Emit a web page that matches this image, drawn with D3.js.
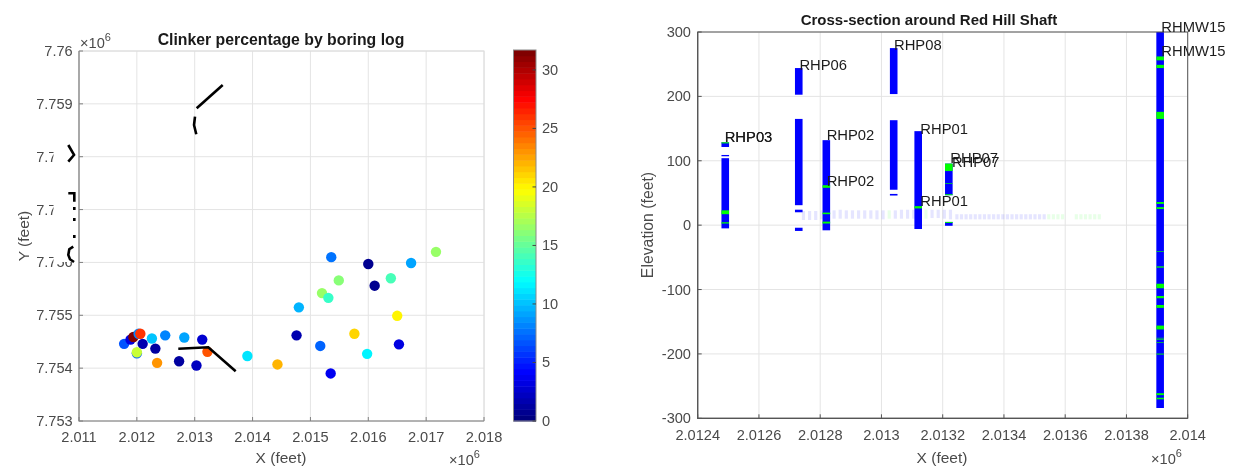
<!DOCTYPE html>
<html><head><meta charset="utf-8">
<script src="https://cdn.jsdelivr.net/npm/d3@7"></script>
<style>
html,body{margin:0;padding:0;background:#fff;overflow:hidden}
svg{display:block;filter:blur(0.45px)}
text{font-family:"Liberation Sans",Arial,sans-serif}
</style></head><body><svg id="c" width="1248" height="470"></svg>
<script>
// ---- left panel data
const wellX=[2.01178,2.01189,2.01194,2.01203,2.01206,2.0121,2.012,2.012,2.01226,2.01232,2.01235,2.01249,2.01282,2.01273,2.01303,2.01313,2.01322,2.01391,2.01443,2.01476,2.0148,2.01517,2.01536,2.016,2.01674,2.01717,2.01639,2.01549,2.01611,2.0152,2.01531,2.0165,2.01576,2.01653,2.01598,2.01535];
const wellY=[7.75446,7.75454,7.75459,7.75465,7.75465,7.75446,7.75428,7.7543,7.75456,7.75437,7.7541,7.75462,7.75458,7.75413,7.75405,7.75454,7.75431,7.75423,7.75407,7.75462,7.75515,7.75442,7.7561,7.75597,7.75599,7.7562,7.7557,7.75566,7.75556,7.75542,7.75533,7.75499,7.75465,7.75445,7.75427,7.7539];
const clinker=[6.5,3,31.5,8,26,1.5,7,18,10,1,23,8,9,1,2,2.5,25,11,22,1.5,9.5,7,7.5,0.5,9,16.5,14,16,0.5,16.5,13.5,20,21,3,11.5,3.5];
const leftXTicks=[2.011,2.012,2.013,2.014,2.015,2.016,2.017,2.018];
const leftYTicks=[7.753,7.754,7.755,7.756,7.757,7.758,7.759,7.76];
const colorTicks=[0,5,10,15,20,25,30];
const shaftLines=[
 [[2.013034,7.758916],[2.013484,7.759357]],
 [[2.013005,7.758757],[2.012988,7.7586],[2.013027,7.758424]],
 [[2.012716,7.754368],[2.013235,7.754395],[2.013708,7.753941]]];
const strayLines=[
 [[2.010815,7.758222],[2.010914,7.758033],[2.010815,7.757906]],
 [[2.010815,7.757308],[2.010919,7.757308],[2.010919,7.757149]],
 [[2.010919,7.757049],[2.010919,7.756992]],
 [[2.010919,7.756841],[2.010919,7.756784]],
 [[2.010919,7.756519],[2.010919,7.756462]],
 [[2.010901,7.756298],[2.010832,7.756249],[2.010815,7.756141],[2.010844,7.75606],[2.010914,7.756008]]];
// ---- right panel data
const rightXTicks=[2.0124,2.0126,2.0128,2.013,2.0132,2.0134,2.0136,2.0138,2.014];
const rightYTicks=[-300,-200,-100,0,100,200,300];
const rhp03=2.01249,rhp06=2.01273,rhp02=2.01282,rhp08=2.01304,rhp01=2.01312,rhp07=2.01322,rhmw15=2.01391;
const boringX=[rhp03,rhp03,rhp03,rhp06,rhp06,rhp06,rhp06,rhp02,rhp08,rhp08,rhp08,rhp01,rhp07,rhp07,rhmw15];
const boringTop=[128.7,109,104,244,165,24,-4,132,275,163,48.5,146,95.6,5,300];
const boringBottom=[121.4,107,-5,202.6,31,20,-9,-8,203.6,55,46,-6,46.5,-1,-284];
const clinkerX=[rhp03,rhp03,rhp03,rhp02,rhp02,rhp02,rhp01,rhp07,rhp07,rhp07,rhp07,
 rhmw15,rhmw15,rhmw15,rhmw15,rhmw15,rhmw15,rhmw15,rhmw15,rhmw15,rhmw15,rhmw15,rhmw15,rhmw15,rhmw15,rhmw15,rhmw15,rhmw15];
const clinkerTop=[128.7,23,4.5,62,19.5,5.5,29.5,95.6,65,48,5,262,249,176,36,28,-64,-91,-110,-124,-156,-175,-177,-199.5,-261,-268,-40.5,-182];
const clinkerBottom=[127,17,2.5,58,17,2.5,26,84,64,46.5,3.5,256,244,165,33,25,-66,-98,-113.5,-128.5,-162,-176,-178,-201,-264,-270.5,-41.5,-183];
const faintX=[2.012745,2.012765,2.012785,2.012805,2.012825,2.012845,2.012865,2.012885,2.012905,2.012925,2.012945,2.012965,2.012985,2.013005,2.013025,2.013045,2.013065,2.013085,2.013105,2.013125,2.013145,2.013165,2.013185,2.013205,2.013225,
 2.013246,2.013261,2.013276,2.013291,2.013306,2.013321,2.013336,2.013351,2.013366,2.013381,2.013396,2.013411,2.013426,2.013441,2.013456,2.013471,2.013486,2.013501,2.013516,2.013531,2.013546,2.013561,2.013576,2.013591,2.013606,2.013621,2.013636,2.013651,2.013666,2.013681,2.013696,2.013711];
const faintTop=[22,22,22,23,22,23,24,23,23,23,23,23,23,23,23,23,24,24,24,24,24,24,24,24,24,
 17,17,17,17,17,17,17,17,17,17,17,17,17,17,17,17,17,17,17,17,17,17,17,17,0,0,17,17,17,17,17,17];
const faintBottom=[8,8,8,9,9,10,10,10,10,10,10,10,9,9,10,10,10,10,10,10,10,11,11,10,9,
 9,9,9,9,9,9,9,9,9,9,9,9,9,9,9,9,9,9,9,9,9,9,9,9,0,0,9,9,9,9,9,9];
const faintKind=["b","b","b","b","b","b","b","b","b","b","b","b","b","b","g","b","b","b","b","g","g","b","b","b","b",
 "b","b","b","b","b","b","b","b","b","b","b","b","b","b","b","b","b","b","b","b","g","g","g","g","g","g","g","g","g","g","g","g"];
const labelName=["RHP03","RHP03","RHP06","RHP02","RHP02","RHP08","RHP01","RHP01","RHP07","RHP07","RHMW15","RHMW15"];
const labelX=[2.012488,2.012488,2.012732,2.012821,2.012821,2.013041,2.013127,2.013127,2.013225,2.013230,2.013914,2.013914];
const labelElev=[137,137,249,140,69,280,150,37,105,98,308,271];

const svg=d3.select("#c");
const INK="#4a4a4a",GRID="#e4e4e4";

// jet with 64 discrete levels
function jet(v){
  const t=Math.floor(Math.min(v/31.7,0.9999)*64)/63;
  const f=c=>Math.round(255*Math.max(0,Math.min(1,c)));
  return `rgb(${f(1.5-Math.abs(4*t-3))},${f(1.5-Math.abs(4*t-2))},${f(1.5-Math.abs(4*t-1))})`;
}
function txt(g,x,y,s,o={}){
  return g.append("text").attr("x",x).attr("y",y).text(s)
   .attr("font-size",o.size||14.6).attr("fill",o.fill||INK)
   .attr("text-anchor",o.anchor||"middle").attr("dominant-baseline","central")
   .attr("font-weight",o.weight||"normal")
   .attr("transform",o.rot?`rotate(-90 ${x} ${y})`:null);
}
function exponent(g,x,y){
  const t=g.append("text").attr("x",x).attr("y",y).attr("fill",INK).attr("font-size",14.6).attr("dominant-baseline","central");
  t.append("tspan").text("×10");
  t.append("tspan").attr("dy",-6).attr("font-size",11).text("6");
}
function frame(g,x,y,xT,yT,xFmt,yFmt,xLabY,yLabX){
  const [x0,x1]=x.range(),[y0,y1]=y.range();
  g.selectAll(null).data(xT).join("line").attr("x1",d=>x(d)).attr("x2",d=>x(d)).attr("y1",y0).attr("y2",y1).attr("stroke",GRID);
  g.selectAll(null).data(yT).join("line").attr("y1",d=>y(d)).attr("y2",d=>y(d)).attr("x1",x0).attr("x2",x1).attr("stroke",GRID);
  g.selectAll(null).data(xT).join("text").attr("x",d=>x(d)).attr("y",xLabY).text(xFmt)
    .attr("text-anchor","middle").attr("dominant-baseline","central").attr("font-size",14.6).attr("fill",INK);
  g.selectAll(null).data(yT).join("text").attr("x",yLabX).attr("y",d=>y(d)).text(yFmt)
    .attr("text-anchor","end").attr("dominant-baseline","central").attr("font-size",14.6).attr("fill",INK);
}
function border(g,x,y,xT,yT,dark,edge){
  const [x0,x1]=x.range(),[y0,y1]=y.range();
  g.append("rect").attr("x",x0).attr("y",y1).attr("width",x1-x0).attr("height",y0-y1).attr("fill","none").attr("stroke",edge).attr("stroke-width",1);
  g.append("path").attr("d",d3.line()([[x0,y1],[x0,y0],[x1,y0]])).attr("fill","none").attr("stroke",dark).attr("stroke-width",1.2);
  g.selectAll(null).data(xT).join("line").attr("x1",d=>x(d)).attr("x2",d=>x(d)).attr("y1",y0).attr("y2",y0-4).attr("stroke",dark);
  g.selectAll(null).data(yT).join("line").attr("y1",d=>y(d)).attr("y2",d=>y(d)).attr("x1",x0).attr("x2",x0+4).attr("stroke",dark);
}

// ---------- left panel
const xL=d3.scaleLinear().domain([2.011,2.018]).range([79,484]);
const yL=d3.scaleLinear().domain([7.753,7.76]).range([421,51]);
const L=svg.append("g");
const fmtL=d3.format(".4~f");
frame(L,xL,yL,leftXTicks,leftYTicks,d3.format(".3f"),fmtL,436.5,72.7);
// the source image has the tick labels partly wiped here
L.append("rect").attr("x",53.5).attr("y",135).attr("width",24).attr("height",127).attr("fill","#fff");
L.selectAll(null).data(wellX).join("circle")
  .attr("cx",d=>xL(d)).attr("cy",(d,i)=>yL(wellY[i])).attr("r",5.2)
  .attr("fill",(d,i)=>jet(clinker[i]));
const lineL=d3.line().x(d=>xL(d[0])).y(d=>yL(d[1]));
L.selectAll(null).data(shaftLines).join("path").attr("d",lineL).attr("fill","none").attr("stroke","#000").attr("stroke-width",2.6);
L.selectAll(null).data(strayLines).join("path").attr("d",lineL).attr("fill","none").attr("stroke","#000").attr("stroke-width",2.6);
border(L,xL,yL,leftXTicks,leftYTicks,"#808080","#dcdcdc");
txt(L,281,39,"Clinker percentage by boring log",{weight:"bold",size:15.8,fill:"#1a1a1a"});
txt(L,281,457.5,"X (feet)",{size:15.5});
txt(L,23,236,"Y (feet)",{size:15.5,rot:true});
exponent(L,80,43);
exponent(L,449,460);

// colorbar
const cS=d3.scaleLinear().domain([0,31.7]).range([421,50]);
const levels=d3.range(64);
L.selectAll(null).data(levels).join("rect")
  .attr("x",513.5).attr("width",22.5)
  .attr("y",d=>cS((d+1)*31.7/64)).attr("height",d=>cS(d*31.7/64)-cS((d+1)*31.7/64)+0.5)
  .attr("fill",d=>jet((d+0.5)*31.7/64));
L.append("rect").attr("x",513.5).attr("y",50).attr("width",22.5).attr("height",371).attr("fill","none").attr("stroke","#8a8a8a");
L.selectAll(null).data(colorTicks).join("line").attr("x1",532.5).attr("x2",536).attr("y1",d=>cS(d)).attr("y2",d=>cS(d)).attr("stroke","#444");
L.selectAll(null).data(colorTicks).join("text").attr("x",542).attr("y",d=>cS(d)).text(d=>d)
  .attr("dominant-baseline","central").attr("font-size",14.6).attr("fill",INK);

// ---------- right panel
const xR=d3.scaleLinear().domain([2.0124,2.014]).range([697.7,1187.7]);
const yR=d3.scaleLinear().domain([-300,300]).range([418.3,32]);
const R=svg.append("g");
frame(R,xR,yR,rightXTicks,rightYTicks,d3.format(".4~f"),d=>d,435,691);
R.selectAll(null).data(faintX).join("rect")
  .attr("x",d=>xR(d)-1.5).attr("width",3.2)
  .attr("y",(d,i)=>yR(faintTop[i])).attr("height",(d,i)=>yR(faintBottom[i])-yR(faintTop[i]))
  .attr("fill",(d,i)=>faintKind[i]==="g"?"#00ff00":"#0000ff").attr("opacity",(d,i)=>faintKind[i]==="g"?0.09:0.1);
const W=7.6;
R.selectAll(null).data(boringX).join("rect")
  .attr("x",d=>xR(d)-W/2).attr("width",W)
  .attr("y",(d,i)=>yR(boringTop[i])).attr("height",(d,i)=>yR(boringBottom[i])-yR(boringTop[i]))
  .attr("fill","#0000ff");
R.selectAll(null).data(clinkerX).join("rect")
  .attr("x",d=>xR(d)-W/2).attr("width",W)
  .attr("y",(d,i)=>yR(clinkerTop[i])).attr("height",(d,i)=>yR(clinkerBottom[i])-yR(clinkerTop[i]))
  .attr("fill","#00ff00");
border(R,xR,yR,rightXTicks,rightYTicks,"#555","#555");
R.selectAll(null).data(labelName).join("text")
  .attr("x",(d,i)=>xR(labelX[i])).attr("y",(d,i)=>yR(labelElev[i])).text(d=>d)
  .attr("dominant-baseline","central").attr("font-size",14.8).attr("fill","#1c1c1c");
txt(R,929,19.5,"Cross-section around Red Hill Shaft",{weight:"bold",size:15,fill:"#1a1a1a"});
txt(R,942,457,"X (feet)",{size:15.5});
txt(R,647,225,"Elevation (feet)",{size:15.8,rot:true});
exponent(R,1151,459);
</script></body></html>
